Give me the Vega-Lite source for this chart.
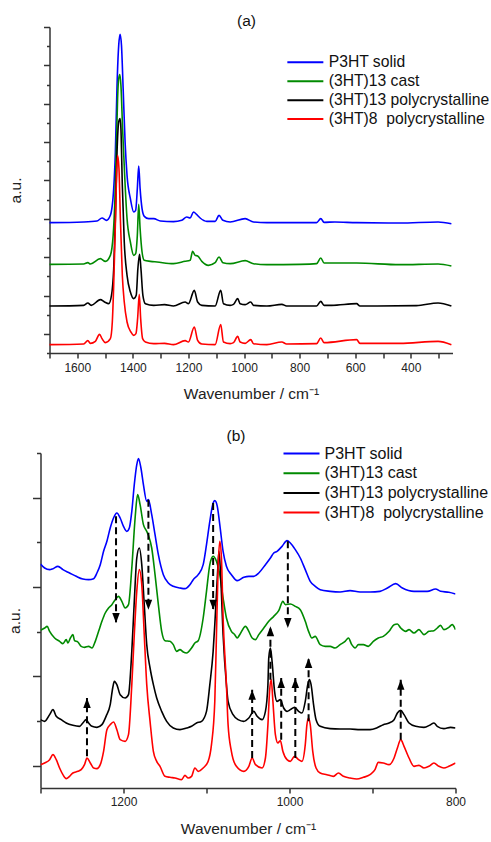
{
"$schema": "https://vega.github.io/schema/vega-lite/v6.json",
"background": "white",
"padding": {"left": 7.5, "top": 13, "right": 0, "bottom": 0},
"config": {
 "view": {"stroke": null},
 "font": "Liberation Sans",
 "axis": {"grid": false, "domainColor": "#333", "tickColor": "#333", "labelColor": "#222", "titleColor": "#222", "labelFont": "Liberation Sans", "titleFont": "Liberation Sans", "titleFontWeight": "normal", "domainWidth": 1.5, "tickWidth": 1.5, "labelFontSize": 12, "titleFontSize": 15.5, "labelOverlap": false, "labelFlush": false, "labelBound": false},
 "title": {"font": "Liberation Sans", "fontWeight": "normal", "fontSize": 15.5, "color": "#111"}
},
"datasets": {
 "a_p3ht": [{"wn":1700,"int":391},{"wn":1577,"int":393},{"wn":1529,"int":396},{"wn":1511,"int":405},{"wn":1495,"int":398},{"wn":1481,"int":413},{"wn":1469,"int":493},{"wn":1463,"int":603},{"wn":1457,"int":803},{"wn":1451,"int":923},{"wn":1446,"int":956},{"wn":1441,"int":923},{"wn":1435,"int":793},{"wn":1428,"int":633},{"wn":1421,"int":533},{"wn":1409,"int":463},{"wn":1397,"int":423},{"wn":1390,"int":428},{"wn":1384,"int":493},{"wn":1379,"int":561},{"wn":1374,"int":493},{"wn":1367,"int":433},{"wn":1359,"int":410},{"wn":1343,"int":403},{"wn":1325,"int":403},{"wn":1301,"int":396},{"wn":1254,"int":394},{"wn":1224,"int":398},{"wn":1206,"int":408},{"wn":1194,"int":405},{"wn":1182,"int":423},{"wn":1170,"int":415},{"wn":1158,"int":405},{"wn":1134,"int":395},{"wn":1104,"int":395},{"wn":1090,"int":413},{"wn":1076,"int":398},{"wn":1050,"int":393},{"wn":996,"int":403},{"wn":966,"int":393},{"wn":918,"int":391},{"wn":835,"int":391},{"wn":739,"int":391},{"wn":724,"int":403},{"wn":712,"int":392},{"wn":673,"int":393},{"wn":595,"int":391},{"wn":440,"int":390},{"wn":302,"int":393},{"wn":254,"int":388}],
 "a_cast": [{"wn":1700,"int":266},{"wn":1577,"int":267},{"wn":1562,"int":271},{"wn":1553,"int":267},{"wn":1517,"int":283},{"wn":1499,"int":275},{"wn":1481,"int":293},{"wn":1471,"int":353},{"wn":1465,"int":453},{"wn":1459,"int":633},{"wn":1455,"int":763},{"wn":1451,"int":823},{"wn":1447,"int":835},{"wn":1443,"int":803},{"wn":1437,"int":673},{"wn":1429,"int":523},{"wn":1421,"int":403},{"wn":1409,"int":333},{"wn":1397,"int":293},{"wn":1390,"int":298},{"wn":1384,"int":353},{"wn":1379,"int":446},{"wn":1374,"int":373},{"wn":1367,"int":303},{"wn":1359,"int":278},{"wn":1337,"int":275},{"wn":1313,"int":273},{"wn":1254,"int":268},{"wn":1212,"int":275},{"wn":1194,"int":278},{"wn":1185,"int":305},{"wn":1176,"int":293},{"wn":1167,"int":291},{"wn":1152,"int":275},{"wn":1128,"int":263},{"wn":1104,"int":271},{"wn":1090,"int":288},{"wn":1076,"int":271},{"wn":1050,"int":268},{"wn":996,"int":277},{"wn":966,"int":268},{"wn":918,"int":265},{"wn":799,"int":266},{"wn":739,"int":268},{"wn":724,"int":285},{"wn":712,"int":270},{"wn":673,"int":270},{"wn":595,"int":270},{"wn":440,"int":265},{"wn":302,"int":267},{"wn":254,"int":261}],
 "a_poly13": [{"wn":1700,"int":141},{"wn":1577,"int":143},{"wn":1562,"int":150},{"wn":1550,"int":143},{"wn":1517,"int":160},{"wn":1502,"int":153},{"wn":1487,"int":148},{"wn":1477,"int":173},{"wn":1469,"int":253},{"wn":1463,"int":403},{"wn":1457,"int":603},{"wn":1451,"int":693},{"wn":1446,"int":703},{"wn":1443,"int":673},{"wn":1438,"int":503},{"wn":1431,"int":333},{"wn":1421,"int":233},{"wn":1409,"int":183},{"wn":1397,"int":163},{"wn":1388,"int":173},{"wn":1382,"int":253},{"wn":1376,"int":296},{"wn":1371,"int":253},{"wn":1364,"int":173},{"wn":1355,"int":148},{"wn":1325,"int":143},{"wn":1286,"int":145},{"wn":1254,"int":141},{"wn":1212,"int":153},{"wn":1200,"int":148},{"wn":1179,"int":188},{"wn":1167,"int":153},{"wn":1152,"int":143},{"wn":1104,"int":141},{"wn":1084,"int":188},{"wn":1074,"int":148},{"wn":1050,"int":143},{"wn":1038,"int":146},{"wn":1023,"int":163},{"wn":1014,"int":148},{"wn":996,"int":145},{"wn":976,"int":153},{"wn":966,"int":143},{"wn":918,"int":141},{"wn":864,"int":146},{"wn":847,"int":141},{"wn":739,"int":141},{"wn":724,"int":155},{"wn":712,"int":143},{"wn":685,"int":143},{"wn":595,"int":148},{"wn":583,"int":141},{"wn":380,"int":142},{"wn":302,"int":150},{"wn":254,"int":141}],
 "a_poly8": [{"wn":1700,"int":25},{"wn":1577,"int":27},{"wn":1562,"int":37},{"wn":1553,"int":29},{"wn":1535,"int":35},{"wn":1520,"int":56},{"wn":1511,"int":43},{"wn":1499,"int":31},{"wn":1481,"int":43},{"wn":1474,"int":93},{"wn":1469,"int":203},{"wn":1464,"int":353},{"wn":1459,"int":523},{"wn":1455,"int":593},{"wn":1450,"int":553},{"wn":1445,"int":403},{"wn":1438,"int":233},{"wn":1431,"int":153},{"wn":1421,"int":93},{"wn":1407,"int":63},{"wn":1397,"int":53},{"wn":1389,"int":58},{"wn":1383,"int":103},{"wn":1377,"int":176},{"wn":1372,"int":103},{"wn":1365,"int":43},{"wn":1355,"int":33},{"wn":1325,"int":28},{"wn":1286,"int":29},{"wn":1254,"int":25},{"wn":1212,"int":37},{"wn":1200,"int":33},{"wn":1179,"int":78},{"wn":1167,"int":38},{"wn":1152,"int":27},{"wn":1104,"int":25},{"wn":1084,"int":85},{"wn":1074,"int":33},{"wn":1050,"int":28},{"wn":1038,"int":31},{"wn":1023,"int":50},{"wn":1014,"int":33},{"wn":996,"int":29},{"wn":976,"int":40},{"wn":966,"int":28},{"wn":918,"int":25},{"wn":864,"int":33},{"wn":847,"int":27},{"wn":739,"int":28},{"wn":724,"int":45},{"wn":712,"int":31},{"wn":595,"int":40},{"wn":583,"int":29},{"wn":440,"int":29},{"wn":302,"int":35},{"wn":254,"int":25}],
 "b_p3ht": [{"wn":1300,"int":672},{"wn":1295,"int":660},{"wn":1289,"int":655},{"wn":1285,"int":658},{"wn":1279,"int":665},{"wn":1273,"int":655},{"wn":1265,"int":645},{"wn":1257,"int":635},{"wn":1249,"int":627},{"wn":1242,"int":625},{"wn":1236,"int":628},{"wn":1232,"int":645},{"wn":1228,"int":670},{"wn":1224,"int":710},{"wn":1220,"int":740},{"wn":1216,"int":780},{"wn":1212,"int":810},{"wn":1208,"int":825},{"wn":1204,"int":810},{"wn":1200,"int":785},{"wn":1196,"int":770},{"wn":1193,"int":780},{"wn":1190,"int":830},{"wn":1187,"int":910},{"wn":1184,"int":970},{"wn":1182,"int":988},{"wn":1179,"int":960},{"wn":1176,"int":910},{"wn":1172,"int":860},{"wn":1170,"int":865},{"wn":1166,"int":820},{"wn":1162,"int":760},{"wn":1158,"int":700},{"wn":1152,"int":640},{"wn":1146,"int":615},{"wn":1140,"int":605},{"wn":1132,"int":600},{"wn":1126,"int":598},{"wn":1120,"int":610},{"wn":1116,"int":625},{"wn":1110,"int":640},{"wn":1104,"int":670},{"wn":1100,"int":730},{"wn":1096,"int":800},{"wn":1092,"int":855},{"wn":1090,"int":862},{"wn":1087,"int":845},{"wn":1084,"int":790},{"wn":1080,"int":710},{"wn":1076,"int":665},{"wn":1070,"int":640},{"wn":1063,"int":622},{"wn":1055,"int":632},{"wn":1049,"int":635},{"wn":1043,"int":635},{"wn":1037,"int":645},{"wn":1029,"int":670},{"wn":1023,"int":690},{"wn":1019,"int":705},{"wn":1015,"int":710},{"wn":1009,"int":725},{"wn":1003,"int":742},{"wn":999,"int":735},{"wn":993,"int":715},{"wn":987,"int":690},{"wn":981,"int":655},{"wn":975,"int":620},{"wn":969,"int":605},{"wn":963,"int":595},{"wn":951,"int":590},{"wn":939,"int":588},{"wn":927,"int":592},{"wn":915,"int":588},{"wn":903,"int":588},{"wn":891,"int":590},{"wn":882,"int":600},{"wn":872,"int":613},{"wn":864,"int":600},{"wn":850,"int":590},{"wn":834,"int":590},{"wn":824,"int":597},{"wn":818,"int":590},{"wn":808,"int":587},{"wn":800,"int":582}],
 "b_cast": [{"wn":1300,"int":473},{"wn":1295,"int":480},{"wn":1292,"int":485},{"wn":1289,"int":470},{"wn":1283,"int":450},{"wn":1277,"int":440},{"wn":1273,"int":433},{"wn":1269,"int":445},{"wn":1267,"int":435},{"wn":1264,"int":450},{"wn":1261,"int":460},{"wn":1259,"int":442},{"wn":1255,"int":438},{"wn":1251,"int":425},{"wn":1247,"int":422},{"wn":1242,"int":425},{"wn":1238,"int":420},{"wn":1234,"int":440},{"wn":1230,"int":470},{"wn":1226,"int":500},{"wn":1222,"int":525},{"wn":1218,"int":540},{"wn":1214,"int":550},{"wn":1210,"int":565},{"wn":1206,"int":575},{"wn":1202,"int":560},{"wn":1198,"int":540},{"wn":1194,"int":550},{"wn":1190,"int":660},{"wn":1186,"int":810},{"wn":1183,"int":880},{"wn":1180,"int":850},{"wn":1176,"int":790},{"wn":1172,"int":770},{"wn":1170,"int":758},{"wn":1166,"int":720},{"wn":1162,"int":640},{"wn":1158,"int":550},{"wn":1154,"int":470},{"wn":1150,"int":442},{"wn":1144,"int":440},{"wn":1140,"int":430},{"wn":1136,"int":410},{"wn":1132,"int":415},{"wn":1128,"int":408},{"wn":1124,"int":405},{"wn":1118,"int":420},{"wn":1114,"int":435},{"wn":1110,"int":442},{"wn":1104,"int":510},{"wn":1100,"int":590},{"wn":1096,"int":670},{"wn":1092,"int":695},{"wn":1088,"int":680},{"wn":1084,"int":640},{"wn":1080,"int":570},{"wn":1076,"int":510},{"wn":1070,"int":470},{"wn":1066,"int":460},{"wn":1063,"int":450},{"wn":1060,"int":460},{"wn":1053,"int":485},{"wn":1049,"int":470},{"wn":1045,"int":450},{"wn":1041,"int":445},{"wn":1037,"int":460},{"wn":1031,"int":480},{"wn":1025,"int":500},{"wn":1019,"int":515},{"wn":1013,"int":532},{"wn":1008,"int":560},{"wn":1005,"int":550},{"wn":999,"int":552},{"wn":993,"int":545},{"wn":987,"int":535},{"wn":981,"int":500},{"wn":977,"int":470},{"wn":973,"int":450},{"wn":969,"int":455},{"wn":963,"int":430},{"wn":957,"int":425},{"wn":951,"int":425},{"wn":945,"int":420},{"wn":939,"int":430},{"wn":933,"int":440},{"wn":929,"int":450},{"wn":925,"int":430},{"wn":921,"int":420},{"wn":917,"int":430},{"wn":911,"int":430},{"wn":905,"int":425},{"wn":899,"int":440},{"wn":893,"int":450},{"wn":887,"int":455},{"wn":880,"int":470},{"wn":874,"int":490},{"wn":870,"int":492},{"wn":866,"int":480},{"wn":860,"int":470},{"wn":856,"int":475},{"wn":850,"int":465},{"wn":844,"int":475},{"wn":838,"int":460},{"wn":832,"int":470},{"wn":826,"int":472},{"wn":822,"int":480},{"wn":818,"int":488},{"wn":814,"int":475},{"wn":808,"int":482},{"wn":804,"int":490},{"wn":800,"int":475}],
 "b_poly13": [{"wn":1300,"int":205},{"wn":1295,"int":200},{"wn":1289,"int":220},{"wn":1285,"int":235},{"wn":1281,"int":215},{"wn":1275,"int":205},{"wn":1269,"int":195},{"wn":1261,"int":188},{"wn":1253,"int":185},{"wn":1249,"int":195},{"wn":1245,"int":205},{"wn":1242,"int":195},{"wn":1238,"int":185},{"wn":1232,"int":182},{"wn":1226,"int":190},{"wn":1221,"int":215},{"wn":1216,"int":250},{"wn":1213,"int":300},{"wn":1211,"int":320},{"wn":1208,"int":310},{"wn":1204,"int":280},{"wn":1198,"int":270},{"wn":1194,"int":280},{"wn":1190,"int":410},{"wn":1187,"int":560},{"wn":1184,"int":690},{"wn":1181,"int":720},{"wn":1178,"int":670},{"wn":1175,"int":550},{"wn":1172,"int":430},{"wn":1168,"int":360},{"wn":1164,"int":310},{"wn":1160,"int":270},{"wn":1154,"int":230},{"wn":1148,"int":200},{"wn":1140,"int":180},{"wn":1132,"int":175},{"wn":1124,"int":180},{"wn":1118,"int":185},{"wn":1112,"int":195},{"wn":1106,"int":200},{"wn":1100,"int":230},{"wn":1096,"int":310},{"wn":1092,"int":410},{"wn":1090,"int":490},{"wn":1087,"int":630},{"wn":1085,"int":710},{"wn":1083,"int":640},{"wn":1080,"int":460},{"wn":1076,"int":310},{"wn":1074,"int":260},{"wn":1068,"int":220},{"wn":1062,"int":205},{"wn":1055,"int":200},{"wn":1049,"int":210},{"wn":1043,"int":230},{"wn":1039,"int":215},{"wn":1033,"int":205},{"wn":1029,"int":230},{"wn":1026,"int":310},{"wn":1025,"int":390},{"wn":1023,"int":420},{"wn":1021,"int":380},{"wn":1018,"int":290},{"wn":1015,"int":260},{"wn":1011,"int":265},{"wn":1007,"int":240},{"wn":1003,"int":230},{"wn":999,"int":235},{"wn":994,"int":242},{"wn":989,"int":230},{"wn":985,"int":225},{"wn":981,"int":260},{"wn":978,"int":310},{"wn":976,"int":325},{"wn":974,"int":310},{"wn":971,"int":250},{"wn":968,"int":205},{"wn":963,"int":185},{"wn":951,"int":178},{"wn":939,"int":177},{"wn":927,"int":177},{"wn":915,"int":175},{"wn":903,"int":175},{"wn":895,"int":180},{"wn":887,"int":190},{"wn":880,"int":195},{"wn":874,"int":205},{"wn":870,"int":225},{"wn":866,"int":233},{"wn":862,"int":220},{"wn":856,"int":195},{"wn":848,"int":185},{"wn":838,"int":182},{"wn":830,"int":190},{"wn":826,"int":195},{"wn":822,"int":185},{"wn":814,"int":178},{"wn":806,"int":182},{"wn":800,"int":180}],
 "b_poly8": [{"wn":1300,"int":70},{"wn":1295,"int":75},{"wn":1289,"int":85},{"wn":1285,"int":100},{"wn":1281,"int":85},{"wn":1277,"int":60},{"wn":1273,"int":40},{"wn":1269,"int":28},{"wn":1265,"int":35},{"wn":1261,"int":45},{"wn":1255,"int":50},{"wn":1251,"int":55},{"wn":1247,"int":70},{"wn":1244,"int":90},{"wn":1240,"int":75},{"wn":1236,"int":60},{"wn":1232,"int":58},{"wn":1228,"int":70},{"wn":1224,"int":110},{"wn":1220,"int":175},{"wn":1216,"int":190},{"wn":1212,"int":198},{"wn":1208,"int":175},{"wn":1204,"int":145},{"wn":1198,"int":140},{"wn":1194,"int":160},{"wn":1190,"int":310},{"wn":1187,"int":460},{"wn":1184,"int":590},{"wn":1181,"int":655},{"wn":1178,"int":610},{"wn":1175,"int":460},{"wn":1172,"int":310},{"wn":1168,"int":200},{"wn":1164,"int":110},{"wn":1160,"int":80},{"wn":1156,"int":65},{"wn":1150,"int":35},{"wn":1144,"int":32},{"wn":1138,"int":30},{"wn":1130,"int":25},{"wn":1126,"int":38},{"wn":1122,"int":30},{"wn":1118,"int":35},{"wn":1114,"int":60},{"wn":1110,"int":50},{"wn":1104,"int":60},{"wn":1098,"int":80},{"wn":1094,"int":130},{"wn":1090,"int":260},{"wn":1088,"int":460},{"wn":1086,"int":660},{"wn":1084,"int":740},{"wn":1082,"int":690},{"wn":1080,"int":510},{"wn":1076,"int":310},{"wn":1074,"int":190},{"wn":1070,"int":110},{"wn":1064,"int":65},{"wn":1055,"int":50},{"wn":1049,"int":65},{"wn":1045,"int":90},{"wn":1041,"int":70},{"wn":1033,"int":60},{"wn":1029,"int":90},{"wn":1026,"int":190},{"wn":1024,"int":290},{"wn":1022,"int":325},{"wn":1020,"int":260},{"wn":1017,"int":160},{"wn":1014,"int":135},{"wn":1011,"int":142},{"wn":1008,"int":110},{"wn":1003,"int":85},{"wn":999,"int":80},{"wn":994,"int":95},{"wn":989,"int":85},{"wn":985,"int":80},{"wn":981,"int":130},{"wn":979,"int":190},{"wn":977,"int":210},{"wn":975,"int":190},{"wn":972,"int":110},{"wn":968,"int":60},{"wn":963,"int":45},{"wn":955,"int":40},{"wn":947,"int":35},{"wn":941,"int":45},{"wn":935,"int":35},{"wn":927,"int":30},{"wn":919,"int":27},{"wn":911,"int":32},{"wn":903,"int":40},{"wn":897,"int":55},{"wn":893,"int":77},{"wn":887,"int":75},{"wn":880,"int":70},{"wn":874,"int":90},{"wn":870,"int":120},{"wn":866,"int":145},{"wn":862,"int":125},{"wn":856,"int":90},{"wn":850,"int":65},{"wn":844,"int":68},{"wn":838,"int":60},{"wn":832,"int":65},{"wn":826,"int":75},{"wn":820,"int":65},{"wn":814,"int":60},{"wn":808,"int":65},{"wn":800,"int":75}],
 "arrows": [{"wn":1209,"y1":815,"y2":495,"dir":"down"},{"wn":1170,"y1":865,"y2":535,"dir":"down"},{"wn":1092,"y1":855,"y2":535,"dir":"down"},{"wn":1002,"y1":740,"y2":480,"dir":"down"},{"wn":1244,"y1":95,"y2":270,"dir":"up"},{"wn":1045,"y1":90,"y2":295,"dir":"up"},{"wn":1023,"y1":325,"y2":485,"dir":"up"},{"wn":1010,"y1":145,"y2":330,"dir":"up"},{"wn":993,"y1":90,"y2":330,"dir":"up"},{"wn":977,"y1":200,"y2":390,"dir":"up"},{"wn":866,"y1":145,"y2":325,"dir":"up"}]
},
"concat": [
 {
  "width": 412, "height": 326,
  "title": {"text": "(a)", "offset": -3},
  "encoding": {
   "x": {"field": "wn", "type": "quantitative", "scale": {"domain": [1700, 250], "range": [9, 412], "nice": false, "zero": false},
     "axis": {"values": [1700,1600,1500,1400,1300,1200,1100,1000,900,800,700,600,500,400,300], "format": "d", "labelExpr": "datum.value % 200 == 0 ? datum.label : ''", "title": "Wavenumber / cm⁻¹", "tickSize": 5, "labelPadding": 4, "titlePadding": 13}},
   "y": {"field": "int", "type": "quantitative", "scale": {"domain": [0, 978], "nice": false, "zero": false},
     "axis": {"offset": -9, "values": [0,57.5,115,172.5,230,287.5,345,402.5,460,517.5,575,632.5,690,747.5,805,862.5,920,977.5], "labels": false, "title": "a.u.", "titlePadding": 19, "tickSize": {"condition": {"test": "datum.value % 115 != 0", "value": 6}, "value": 3}}}
  },
  "layer": [
   {"data": {"name": "a_p3ht"}, "mark": {"type": "line", "strokeWidth": 1.6, "interpolate": "monotone", "clip": true},
    "encoding": {"color": {"datum": "P3HT solid", "type": "nominal",
      "scale": {"domain": ["P3HT solid", "(3HT)13 cast", "(3HT)13 polycrystalline", "(3HT)8\u00a0 polycrystalline"], "range": ["#0000ff", "#008a00", "#000000", "#ff0000"]},
      "legend": {"orient": "none", "legendX": 247, "legendY": 27.5, "title": null, "padding": 0, "symbolType": "M-4,0H4", "symbolSize": 81, "symbolStrokeWidth": 2, "symbolOffset": 10, "labelOffset": 15.5, "labelFontSize": 15.7, "labelFont": "Liberation Sans", "labelColor": "#111", "labelLimit": 400, "rowPadding": 1.9}}}},
   {"data": {"name": "a_cast"}, "mark": {"type": "line", "strokeWidth": 1.6, "interpolate": "monotone", "clip": true},
    "encoding": {"color": {"datum": "(3HT)13 cast", "type": "nominal"}}},
   {"data": {"name": "a_poly13"}, "mark": {"type": "line", "strokeWidth": 1.6, "interpolate": "monotone", "clip": true},
    "encoding": {"color": {"datum": "(3HT)13 polycrystalline", "type": "nominal"}}},
   {"data": {"name": "a_poly8"}, "mark": {"type": "line", "strokeWidth": 1.6, "interpolate": "monotone", "clip": true},
    "encoding": {"color": {"datum": "(3HT)8\u00a0 polycrystalline", "type": "nominal"}}}
  ]
 },
 {
  "width": 415, "height": 335,
  "title": {"text": "(b)", "offset": 1, "dx": -12, "frame": "group"},
  "encoding": {
   "x": {"field": "wn", "type": "quantitative", "scale": {"domain": [800, 1300], "reverse": true, "nice": false, "zero": false},
     "axis": {"values": [1300,1200,1100,1000,900,800], "format": "d", "labelExpr": "datum.value % 200 == 0 ? datum.label : ''", "title": "Wavenumber / cm⁻¹", "tickSize": 5, "labelPadding": 3, "titlePadding": 14}},
   "y": {"field": "int", "type": "quantitative", "scale": {"domain": [0, 1005], "nice": false, "zero": false},
     "axis": {"values": [67,201,335,469,603,737,871,1005], "labels": false, "title": "a.u.", "titlePadding": 9, "tickSize": {"condition": {"test": "(datum.value - 67) % 268 == 0", "value": 8}, "value": 4}}}
  },
  "layer": [
   {"data": {"name": "b_p3ht"}, "mark": {"type": "line", "strokeWidth": 1.6, "interpolate": "monotone", "clip": true},
    "encoding": {"color": {"datum": "P3HT solid", "type": "nominal",
      "scale": {"domain": ["P3HT solid", "(3HT)13 cast", "(3HT)13 polycrystalline", "(3HT)8\u00a0 polycrystalline"], "range": ["#0000ff", "#008a00", "#000000", "#ff0000"]},
      "legend": {"orient": "none", "legendX": 243, "legendY": -7.5, "title": null, "padding": 0, "symbolType": "M-4,0H4", "symbolSize": 81, "symbolStrokeWidth": 2, "symbolOffset": 10, "labelOffset": 15, "labelFontSize": 16, "labelFont": "Liberation Sans", "labelColor": "#111", "labelLimit": 400, "rowPadding": 3.7}}}},
   {"data": {"name": "b_cast"}, "mark": {"type": "line", "strokeWidth": 1.6, "interpolate": "monotone", "clip": true},
    "encoding": {"color": {"datum": "(3HT)13 cast", "type": "nominal"}}},
   {"data": {"name": "b_poly13"}, "mark": {"type": "line", "strokeWidth": 1.6, "interpolate": "monotone", "clip": true},
    "encoding": {"color": {"datum": "(3HT)13 polycrystalline", "type": "nominal"}}},
   {"data": {"name": "b_poly8"}, "mark": {"type": "line", "strokeWidth": 1.6, "interpolate": "monotone", "clip": true},
    "encoding": {"color": {"datum": "(3HT)8\u00a0 polycrystalline", "type": "nominal"}}},
   {"data": {"name": "arrows"}, "mark": {"type": "rule", "strokeDash": [7, 4], "strokeWidth": 2, "color": "#000"},
    "encoding": {"y": {"field": "y1", "type": "quantitative"}, "y2": {"field": "y2"}}},
   {"data": {"name": "arrows"}, "transform": [{"filter": "datum.dir == 'down'"}],
    "mark": {"type": "point", "shape": "M0,1L-0.75,-1L0.75,-1Z", "filled": true, "size": 100, "color": "#000", "opacity": 1, "yOffset": -5},
    "encoding": {"y": {"field": "y2", "type": "quantitative"}}},
   {"data": {"name": "arrows"}, "transform": [{"filter": "datum.dir == 'up'"}],
    "mark": {"type": "point", "shape": "M0,-1L-0.75,1L0.75,1Z", "filled": true, "size": 100, "color": "#000", "opacity": 1, "yOffset": 5},
    "encoding": {"y": {"field": "y2", "type": "quantitative"}}}
  ]
 }
],
"columns": 1,
"spacing": 27,
"resolve": {"scale": {"color": "independent"}, "legend": {"color": "independent"}}
}
